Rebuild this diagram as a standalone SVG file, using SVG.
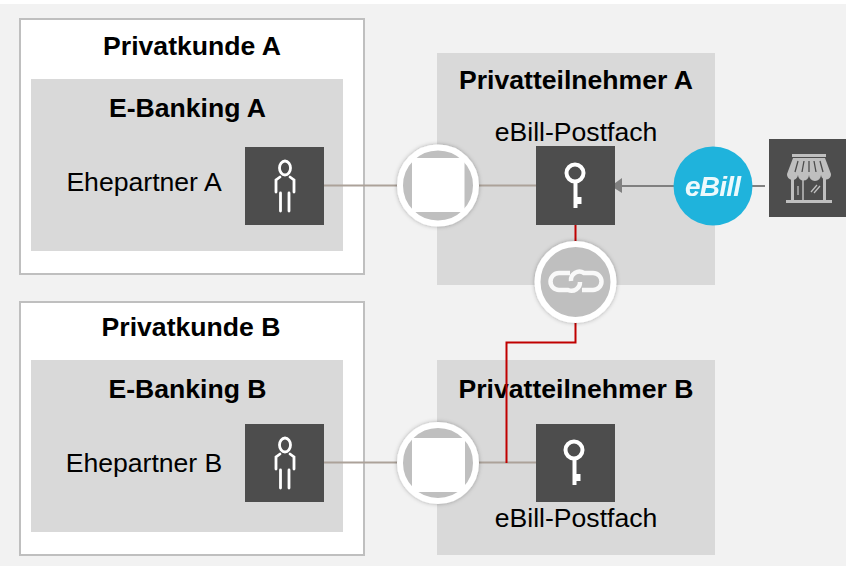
<svg xmlns="http://www.w3.org/2000/svg" width="846" height="566" viewBox="0 0 846 566">
<style>
text{font-family:"Liberation Sans",Arial,sans-serif;fill:#000;text-anchor:middle}
.b{font-size:26.6px;font-weight:bold}
.r{font-size:26.6px}
.panel{fill:#d9d9d9}
.outer{fill:#fff;stroke:#bfbfbf;stroke-width:2}
.box{fill:#4d4d4d}
.ic{fill:none;stroke:#fff;stroke-width:2.800;stroke-linecap:round}
.ring{fill:#bfbfbf;stroke:#fff;stroke-width:6}
.st{fill:none;stroke:#bfbfbf;stroke-width:3}
</style>
<defs>
<filter id="sh" x="-20%" y="-20%" width="140%" height="140%"><feDropShadow dx="0" dy="0" stdDeviation="2" flood-color="#000" flood-opacity="0.3"/></filter>
<g id="person">
<ellipse cx="0" cy="-18" rx="5.500" ry="7" class="ic"/>
<path class="ic" d="M-5-9L-9-6V6M5-9L9-6V6M-4.500 7V25M4 7V25"/>
</g>
<g id="key">
<circle cx="0" cy="-12" r="8.500" fill="none" stroke="#fff" stroke-width="4"/>
<path fill="#fff" d="M-1.500-4H2.500V12H6.500V19H2.500V23H2.500V23H-1.500Z"/>
</g>
</defs>
<rect x="0" y="4" width="846" height="562" fill="#f2f2f2"/>
<g id="privatkunde-a"><rect class="outer" x="20" y="19" width="344" height="255"/><text class="b" x="192" y="55">Privatkunde A</text></g>
<g id="privatkunde-b"><rect class="outer" x="20" y="302" width="344" height="253"/><text class="b" x="191" y="336">Privatkunde B</text></g>
<g id="ebanking-a"><rect class="panel" x="31" y="79" width="312" height="172"/><text class="b" x="187.500" y="117">E-Banking A</text></g>
<g id="ebanking-b"><rect class="panel" x="31" y="360" width="312" height="172"/><text class="b" x="187.500" y="398">E-Banking B</text></g>
<g id="teilnehmer-a"><rect class="panel" x="437" y="53" width="278" height="232"/><text class="b" x="576" y="89">Privatteilnehmer A</text><text class="r" x="576" y="141">eBill-Postfach</text></g>
<g id="teilnehmer-b"><rect class="panel" x="437" y="360" width="278" height="195"/><text class="b" x="576" y="398">Privatteilnehmer B</text><text class="r" x="576" y="527">eBill-Postfach</text></g>
<g id="connectors" fill="none">
<path stroke="#aca299" stroke-width="2" d="M324 185.500H536M324 462.500H537"/>
<path stroke="#808080" stroke-width="2" d="M620 186H765"/>
<path fill="#808080" d="M611 186L622 178V193Z"/>
<path stroke="#c00000" stroke-width="2" d="M575.500 225V342.500H506.500V463"/>
</g>
<g id="ehepartner-a"><text class="r" x="144" y="191">Ehepartner A</text><rect class="box" x="245" y="147" width="79" height="78"/><use href="#person" x="285" y="186"/></g>
<g id="ehepartner-b"><text class="r" x="144" y="472">Ehepartner B</text><rect class="box" x="245" y="424" width="79" height="78"/><use href="#person" x="285" y="463"/></g>
<g id="lock-a"><circle class="ring" cx="438" cy="185.500" r="38" filter="url(#sh)"/><rect x="412" y="158" width="52.500" height="54" fill="#fff"/></g>
<g id="lock-b"><circle class="ring" cx="438" cy="463" r="38" filter="url(#sh)"/><rect x="412" y="438" width="53" height="54" fill="#fff"/></g>
<g id="postfach-a"><rect class="box" x="536" y="146" width="79" height="79"/><use href="#key" x="575" y="185"/></g>
<g id="postfach-b"><rect class="box" x="536" y="424" width="79" height="78"/><use href="#key" x="574" y="462"/></g>
<g id="link"><circle class="ring" cx="575.500" cy="282" r="38" filter="url(#sh)"/>
<g fill="none" stroke="#fff" stroke-width="4.500" stroke-opacity="0.9"><path d="M570 273H559A8.500 8.500 0 0 0 559 290H568A8.500 8.500 0 0 0 580 282"/><path d="M582 290H593A8.500 8.500 0 0 0 593 273H584A8.500 8.500 0 0 0 571 281"/></g></g>
<g id="ebill"><circle cx="713" cy="186" r="39.500" fill="#1fb3dc"/><text x="713" y="196" style="font-size:28px;font-weight:bold;font-style:italic;fill:#fff" opacity="0.92" textLength="56" lengthAdjust="spacing">eBill</text></g>
<g id="store"><rect class="box" x="769" y="139" width="77" height="78"/>
<path fill="#bfbfbf" d="M792 154H826V157H792ZM793 158H825L831 174A4.750 4.750 0 0 1 821 175A5.500 5.500 0 0 1 809 175A5.500 5.500 0 0 1 798 175A4.750 4.750 0 0 1 787 174ZM786 200H832V203H786Z"/>
<path class="st" d="M792.500 178V201M824.500 178V201"/>
<path fill="none" stroke="#bfbfbf" stroke-width="1.500" d="M803 180V201"/>
<path fill="none" stroke="#4d4d4d" stroke-width="1.300" d="M795 172L798 161M802 172L804 161M809 172V161M816 172L814 161M823 172L820 161"/>
<path fill="none" stroke="#bfbfbf" stroke-width="1.300" d="M798 186V195M811 192L817 185M814 193L820 186"/>
</g>
</svg>
